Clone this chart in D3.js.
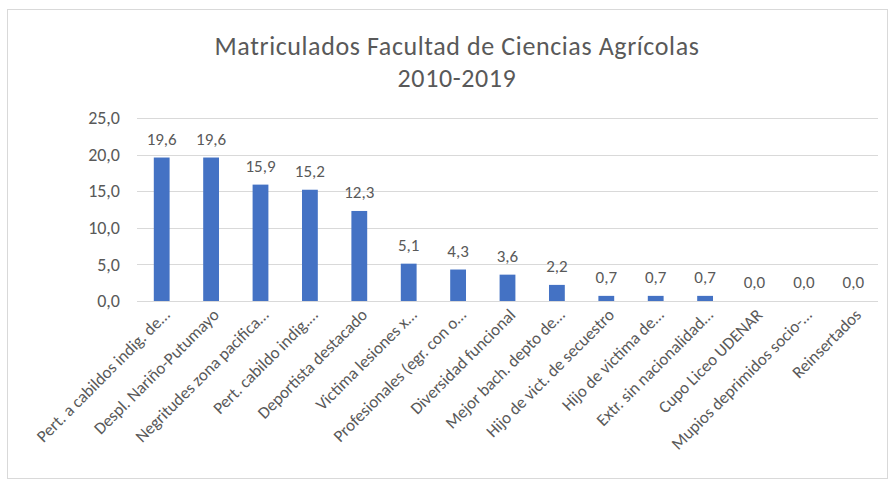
<!DOCTYPE html>
<html lang="es">
<head>
    <meta charset="UTF-8">
    <title>Matriculados Facultad de Ciencias Agrícolas</title>
    <script src="https://d3js.org/d3.v7.min.js"></script>
</head>
<style>
    *{margin: 0;padding: 0}
    body{background: #fff;}
    #chart text{font-family: Carlito, Lato, "Open Sans", sans-serif; fill: #595959;}
    .grid line{stroke: #d9d9d9;}
    .bars rect{fill: #4472c4;}
</style>
<body>
<div id="chart"></div>

<script>
    // categorías (texto recortado tal como en la figura)
    var categorias = [
        'Pert. a cabildos indig. de…',
        'Despl. Nariño-Putumayo',
        'Negritudes zona pacifica…',
        'Pert. cabildo indig.…',
        'Deportista destacado',
        'Victima lesiones x…',
        'Profesionales (egr. con o…',
        'Diversidad funcional',
        'Mejor bach. depto de…',
        'Hijo de vict. de secuestro',
        'Hijo de victima de…',
        'Extr. sin nacionalidad…',
        'Cupo Liceo UDENAR',
        'Mupios deprimidos socio-…',
        'Reinsertados'
    ];
    var valores = [19.6, 19.6, 15.9, 15.2, 12.3, 5.1, 4.3, 3.6, 2.2, 0.7, 0.7, 0.7, 0.0, 0.0, 0.0];
    var ticksY = [0, 5, 10, 15, 20, 25];
    var titulo = ['Matriculados Facultad de Ciencias Agrícolas', '2010-2019'];

    var width = 894, height = 482;
    var margin = {top: 118, right: 16, bottom: 181, left: 137};

    var es = d3.formatLocale({decimal: ',', thousands: '.', grouping: [3], currency: ['$', '']});
    var fmt = es.format('.1f');

    var svg = d3.select('#chart').append('svg')
        .attr('width', width)
        .attr('height', height);

    // marco del área del gráfico
    svg.append('rect')
        .attr('x', 7.5).attr('y', 9.5)
        .attr('width', 880).attr('height', 469)
        .attr('fill', '#fff')
        .attr('stroke', '#d9d9d9');

    svg.selectAll('.titulo')
        .data(titulo)
        .enter()
        .append('text')
        .attr('class', 'titulo')
        .attr('x', 457)
        .attr('y', function (d, i) { return 55 + i * 32; })
        .attr('text-anchor', 'middle')
        .style('font-size', '26px')
        .style('letter-spacing', '0.6px')
        .text(function (d) { return d; });

    var x = d3.scaleBand()
        .domain(categorias)
        .range([margin.left, width - margin.right])
        .paddingInner(0.68)
        .paddingOuter(0.34);

    var y = d3.scaleLinear()
        .domain([0, 25])
        .range([height - margin.bottom, margin.top]);

    // líneas de la cuadrícula
    svg.append('g')
        .attr('class', 'grid')
        .selectAll('line')
        .data(ticksY)
        .enter()
        .append('line')
        .attr('x1', margin.left)
        .attr('x2', width - margin.right)
        .attr('y1', function (d) { return Math.round(y(d)) + 0.5; })
        .attr('y2', function (d) { return Math.round(y(d)) + 0.5; });

    var yAxis = svg.append('g')
        .attr('transform', 'translate(' + (margin.left - 14) + ',0)')
        .call(d3.axisLeft(y).tickValues(ticksY).tickFormat(fmt).tickSize(0));
    yAxis.select('.domain').remove();
    yAxis.selectAll('text').style('font-size', '18px');

    var xAxis = svg.append('g')
        .attr('transform', 'translate(0,' + (height - margin.bottom) + ')')
        .call(d3.axisBottom(x).tickSize(0).tickPadding(0));
    xAxis.select('.domain').remove();
    xAxis.selectAll('text')
        .style('font-size', '17px')
        .attr('text-anchor', 'end')
        .attr('dy', 0)
        .attr('transform', 'translate(9,15) rotate(-45)');

    var datos = categorias.map(function (c, i) { return {cat: c, val: valores[i]}; });

    var bars = svg.append('g').attr('class', 'bars');
    bars.selectAll('rect')
        .data(datos)
        .enter()
        .append('rect')
        .attr('x', function (d) { return x(d.cat); })
        .attr('y', function (d) { return y(d.val); })
        .attr('width', x.bandwidth())
        .attr('height', function (d) { return y(0) - y(d.val); });

    svg.append('g')
        .selectAll('text')
        .data(datos)
        .enter()
        .append('text')
        .attr('x', function (d) { return x(d.cat) + x.bandwidth() / 2; })
        .attr('y', function (d) { return y(d.val) - 13; })
        .attr('text-anchor', 'middle')
        .style('font-size', '17px')
        .text(function (d) { return fmt(d.val); });
</script>
</body>
</html>
